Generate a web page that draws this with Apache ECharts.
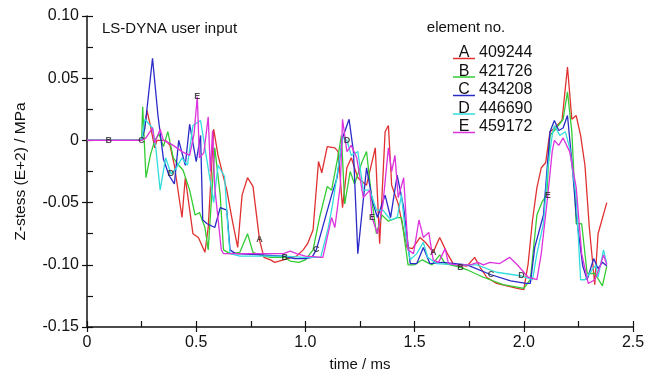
<!DOCTYPE html>
<html>
<head>
<meta charset="utf-8">
<script src="https://cdn.jsdelivr.net/npm/echarts@6/dist/echarts.min.js"></script>
<style>
html, body { margin: 0; background: #fff; }
#main { width: 656px; height: 377px; }
</style>
</head>
<body>
<div id="main"></div>
<script>
// element numbers and curve letters
var letters = ['A', 'B', 'C', 'D', 'E'];
var elementNos = ['409244', '421726', '434208', '446690', '459172'];
var colors = ['#e03030', '#33cc33', '#2a2ac8', '#33dddd', '#dd33dd'];

// [time ms, z-stress]
var stressA = [[0,0],[0.25,0],[0.265,0.012],[0.275,0.024],[0.29,0.012],[0.31,-0.006],[0.32,0],[0.36,0],[0.38,-0.004],[0.40,-0.02],[0.435,-0.062],[0.45,-0.03],[0.485,-0.075],[0.51,-0.078],[0.54,-0.09],[0.555,-0.07],[0.58,0.009],[0.60,-0.012],[0.64,-0.04],[0.665,-0.064],[0.69,-0.086],[0.71,-0.044],[0.735,-0.03],[0.76,-0.037],[0.79,-0.08],[0.81,-0.094],[0.84,-0.096],[0.86,-0.098],[0.88,-0.097],[0.92,-0.095],[0.96,-0.093],[0.99,-0.088],[1.01,-0.083],[1.035,-0.072],[1.06,-0.017],[1.075,-0.026],[1.10,-0.005],[1.135,-0.006],[1.15,-0.009],[1.17,-0.054],[1.19,-0.022],[1.21,-0.014],[1.24,-0.03],[1.28,-0.036],[1.32,-0.006],[1.34,-0.083],[1.365,0.007],[1.38,0.012],[1.395,-0.036],[1.425,-0.051],[1.465,-0.086],[1.49,-0.087],[1.525,-0.078],[1.55,-0.082],[1.585,-0.09],[1.615,-0.078],[1.65,-0.091],[1.68,-0.1],[1.74,-0.101],[1.775,-0.094],[1.80,-0.102],[1.83,-0.11],[1.875,-0.115],[1.97,-0.119],[2.0,-0.12],[2.02,-0.099],[2.04,-0.064],[2.06,-0.038],[2.08,-0.022],[2.10,-0.018],[2.12,0.007],[2.14,0.01],[2.175,0.016],[2.20,0.059],[2.22,0.017],[2.24,0.02],[2.26,0.004],[2.28,-0.02],[2.30,-0.07],[2.325,-0.116],[2.34,-0.075],[2.38,-0.05]];
var stressB = [[0,0],[0.1,0],[0.25,0],[0.255,0.027],[0.27,-0.03],[0.29,-0.012],[0.31,0.0],[0.33,0.005],[0.35,-0.005],[0.37,0.007],[0.395,-0.014],[0.42,-0.02],[0.44,-0.024],[0.47,-0.04],[0.495,-0.06],[0.515,-0.058],[0.54,-0.07],[0.555,-0.088],[0.585,-0.006],[0.61,-0.044],[0.625,-0.088],[0.655,-0.091],[0.70,-0.09],[0.735,-0.075],[0.76,-0.09],[0.79,-0.092],[0.84,-0.094],[0.905,-0.094],[0.93,-0.097],[0.97,-0.098],[1.0,-0.096],[1.035,-0.088],[1.065,-0.062],[1.10,-0.037],[1.12,-0.04],[1.15,-0.012],[1.165,0.004],[1.18,-0.051],[1.205,-0.025],[1.225,-0.035],[1.26,-0.017],[1.28,-0.009],[1.305,-0.049],[1.325,-0.075],[1.35,-0.06],[1.38,-0.065],[1.42,-0.062],[1.44,-0.062],[1.47,-0.1],[1.5,-0.1],[1.535,-0.096],[1.58,-0.1],[1.615,-0.092],[1.64,-0.099],[1.71,-0.102],[1.74,-0.104],[1.815,-0.11],[1.905,-0.116],[2.0,-0.119],[2.03,-0.112],[2.06,-0.06],[2.085,-0.049],[2.105,-0.044],[2.12,0.004],[2.15,0.01],[2.18,0.017],[2.20,0.039],[2.22,0.007],[2.24,-0.067],[2.265,-0.067],[2.29,-0.107],[2.325,-0.107],[2.36,-0.117],[2.38,-0.101]];
var stressC = [[0,0],[0.25,0],[0.265,0.01],[0.30,0.066],[0.325,0.02],[0.35,-0.015],[0.375,-0.028],[0.40,-0.035],[0.42,0.0],[0.45,-0.02],[0.47,0.013],[0.50,-0.017],[0.52,0.004],[0.53,-0.064],[0.55,-0.067],[0.585,-0.07],[0.61,-0.054],[0.64,-0.056],[0.655,-0.088],[0.68,-0.091],[0.80,-0.092],[0.90,-0.093],[0.95,-0.095],[1.0,-0.095],[1.03,-0.094],[1.05,-0.088],[1.12,-0.044],[1.145,-0.03],[1.17,0.002],[1.20,0.017],[1.22,-0.009],[1.24,-0.091],[1.28,-0.022],[1.31,-0.051],[1.33,-0.062],[1.365,-0.044],[1.39,-0.062],[1.42,-0.028],[1.45,-0.054],[1.48,-0.099],[1.51,-0.099],[1.54,-0.086],[1.57,-0.099],[1.63,-0.098],[1.74,-0.1],[1.85,-0.108],[1.94,-0.113],[2.01,-0.115],[2.03,-0.115],[2.05,-0.086],[2.09,-0.06],[2.12,0.007],[2.14,0.016],[2.16,0.008],[2.18,0.01],[2.20,0.02],[2.22,-0.017],[2.24,-0.06],[2.27,-0.101],[2.29,-0.112],[2.32,-0.095],[2.34,-0.103],[2.36,-0.098],[2.38,-0.101]];
var stressD = [[0,0],[0.25,0],[0.265,0.017],[0.30,0.01],[0.315,-0.006],[0.335,-0.04],[0.36,-0.014],[0.385,-0.027],[0.41,-0.022],[0.435,-0.014],[0.46,-0.02],[0.485,0.012],[0.52,0.016],[0.55,-0.017],[0.58,-0.05],[0.60,-0.02],[0.63,-0.029],[0.645,-0.07],[0.655,-0.091],[0.70,-0.093],[0.80,-0.093],[0.90,-0.093],[1.0,-0.094],[1.07,-0.094],[1.105,-0.07],[1.125,-0.051],[1.15,-0.022],[1.17,0.002],[1.19,0.0],[1.21,-0.012],[1.24,-0.009],[1.265,-0.04],[1.295,-0.04],[1.325,-0.056],[1.355,-0.056],[1.39,-0.064],[1.42,-0.062],[1.44,-0.044],[1.46,-0.078],[1.48,-0.096],[1.51,-0.091],[1.54,-0.082],[1.56,-0.094],[1.60,-0.099],[1.695,-0.1],[1.785,-0.1],[1.875,-0.106],[1.99,-0.109],[2.005,-0.11],[2.04,-0.112],[2.06,-0.091],[2.09,-0.067],[2.11,-0.022],[2.13,0.004],[2.14,0.012],[2.165,0.004],[2.19,0.007],[2.21,-0.006],[2.24,-0.046],[2.26,-0.112],[2.28,-0.112],[2.30,-0.107],[2.33,-0.1],[2.34,-0.11],[2.365,-0.088],[2.38,-0.099]];
var stressE = [[0,0],[0.25,0],[0.27,0.002],[0.30,0.01],[0.31,-0.002],[0.335,0.009],[0.35,0.0],[0.375,-0.002],[0.395,-0.004],[0.435,-0.009],[0.47,-0.012],[0.49,0.005],[0.505,0.035],[0.515,-0.014],[0.535,-0.01],[0.555,0.019],[0.565,-0.025],[0.575,0.008],[0.585,-0.038],[0.615,-0.088],[0.625,-0.091],[0.90,-0.091],[0.93,-0.089],[0.96,-0.091],[1.0,-0.093],[1.08,-0.094],[1.12,-0.062],[1.135,-0.07],[1.16,-0.036],[1.17,0.017],[1.19,-0.009],[1.21,-0.004],[1.235,-0.014],[1.265,-0.046],[1.295,-0.04],[1.305,-0.062],[1.33,-0.075],[1.355,-0.051],[1.38,-0.006],[1.395,-0.025],[1.41,-0.012],[1.425,-0.046],[1.45,-0.03],[1.47,-0.088],[1.495,-0.091],[1.52,-0.064],[1.54,-0.078],[1.565,-0.074],[1.585,-0.096],[1.61,-0.098],[1.64,-0.087],[1.655,-0.099],[1.695,-0.1],[1.755,-0.1],[1.79,-0.098],[1.815,-0.1],[1.845,-0.098],[1.89,-0.099],[1.935,-0.094],[1.97,-0.1],[2.0,-0.106],[2.02,-0.11],[2.06,-0.112],[2.08,-0.091],[2.11,-0.044],[2.13,-0.009],[2.14,0.0],[2.16,-0.004],[2.18,0.002],[2.21,-0.009],[2.24,-0.038],[2.265,-0.091],[2.295,-0.115],[2.325,-0.112],[2.35,-0.101],[2.365,-0.092],[2.38,-0.1]];

// times at which the curve letter is printed on each curve
var tagA = [0.79, 1.585];
var tagB = [0.1, 0.905, 1.71];
var tagC = [0.25, 1.05, 1.85];
var tagD = [0.385, 1.19, 1.99];
var tagE = [0.505, 1.305, 2.11];

var allStress = [stressA, stressB, stressC, stressD, stressE];
var allTags = [tagA, tagB, tagC, tagD, tagE];

var font = '"Liberation Sans", Arial, sans-serif';

function xLabel(v) { return Math.abs(v) < 1e-9 ? '0' : v.toFixed(1); }
function yLabel(v) { return Math.abs(v) < 1e-9 ? '0' : v.toFixed(2); }

var series = [];
for (var i = 0; i < 5; i++) {
    series.push({
        name: letters[i],
        type: 'line',
        data: allStress[i],
        showSymbol: false,
        lineStyle: { color: colors[i], width: 1.3 },
        z: 2 + i
    });
}
for (var i = 0; i < 5; i++) {
    var tags = allTags[i];
    series.push({
        type: 'scatter',
        data: allStress[i].filter(function (p) { return tags.indexOf(p[0]) >= 0; }),
        symbolSize: 1,
        itemStyle: { color: 'rgba(0,0,0,0)' },
        silent: true,
        z: 10,
        label: {
            show: true, position: 'inside', formatter: letters[i],
            fontFamily: font, fontSize: 9, fontWeight: 'bold', color: '#222'
        }
    });
}

var graphics = [{
    type: 'text', left: 102, top: 21,
    style: { text: 'LS-DYNA user input', font: '15px ' + font, fill: '#111' }
}, {
    type: 'text', x: 466, y: 28,
    style: { text: 'element no.', font: '15px ' + font, fill: '#111', textAlign: 'center', textVerticalAlign: 'middle' }
}];
for (var i = 0; i < 5; i++) {
    var ry = 53 + i * 18.5;
    graphics.push({
        type: 'text', x: 464, y: ry,
        style: { text: letters[i], font: '16px ' + font, fill: '#111', textAlign: 'center', textVerticalAlign: 'middle' }
    });
    graphics.push({
        type: 'line', shape: { x1: 453, y1: ry + 5.5, x2: 475, y2: ry + 5.5 },
        style: { stroke: colors[i], lineWidth: 1.5 }
    });
    graphics.push({
        type: 'text', x: 479, y: ry,
        style: { text: elementNos[i], font: '16px ' + font, fill: '#111', textAlign: 'left', textVerticalAlign: 'middle' }
    });
}

var axisLine = { onZero: false, lineStyle: { color: '#111', width: 1.5 } };

var chart = echarts.init(document.getElementById('main'));
chart.setOption({
    animation: false,
    backgroundColor: '#fff',
    grid: { left: 87, right: 23, top: 16, bottom: 44 },
    xAxis: [{
        type: 'value', min: 0, max: 2.5, interval: 0.5,
        name: 'time / ms', nameLocation: 'middle', nameGap: 30,
        nameTextStyle: { fontFamily: font, fontSize: 15, color: '#111' },
        axisLine: axisLine,
        axisTick: { show: true, length: 5, lineStyle: { color: '#111', width: 1.2 } },
        axisLabel: { fontFamily: font, fontSize: 16, color: '#111', margin: 8, formatter: xLabel },
        splitLine: { show: false }
    }, {
        type: 'value', min: 0, max: 2.5, interval: 0.5, position: 'bottom',
        axisLine: { show: false, onZero: false },
        axisTick: { show: true, inside: true, length: 6, lineStyle: { color: '#111', width: 1.2 } },
        minorTick: { show: true, splitNumber: 2, length: 6, lineStyle: { color: '#111', width: 1.2 } },
        axisLabel: { show: false },
        splitLine: { show: false }
    }],
    yAxis: [{
        type: 'value', min: -0.15, max: 0.10, interval: 0.05,
        name: 'Z-stess (E+2) / MPa', nameLocation: 'middle', nameGap: 58,
        nameTextStyle: { fontFamily: font, fontSize: 15.5, color: '#111' },
        axisLine: axisLine,
        axisTick: { show: true, length: 5, lineStyle: { color: '#111', width: 1.2 } },
        axisLabel: { fontFamily: font, fontSize: 16, color: '#111', margin: 8, formatter: yLabel },
        splitLine: { show: false }
    }, {
        type: 'value', min: -0.15, max: 0.10, interval: 0.05, position: 'left',
        axisLine: { show: false, onZero: false },
        axisTick: { show: true, inside: true, length: 6, lineStyle: { color: '#111', width: 1.2 } },
        minorTick: { show: true, splitNumber: 2, length: 6, lineStyle: { color: '#111', width: 1.2 } },
        axisLabel: { show: false },
        splitLine: { show: false }
    }],
    series: series,
    graphic: graphics
});
</script>
</body>
</html>
